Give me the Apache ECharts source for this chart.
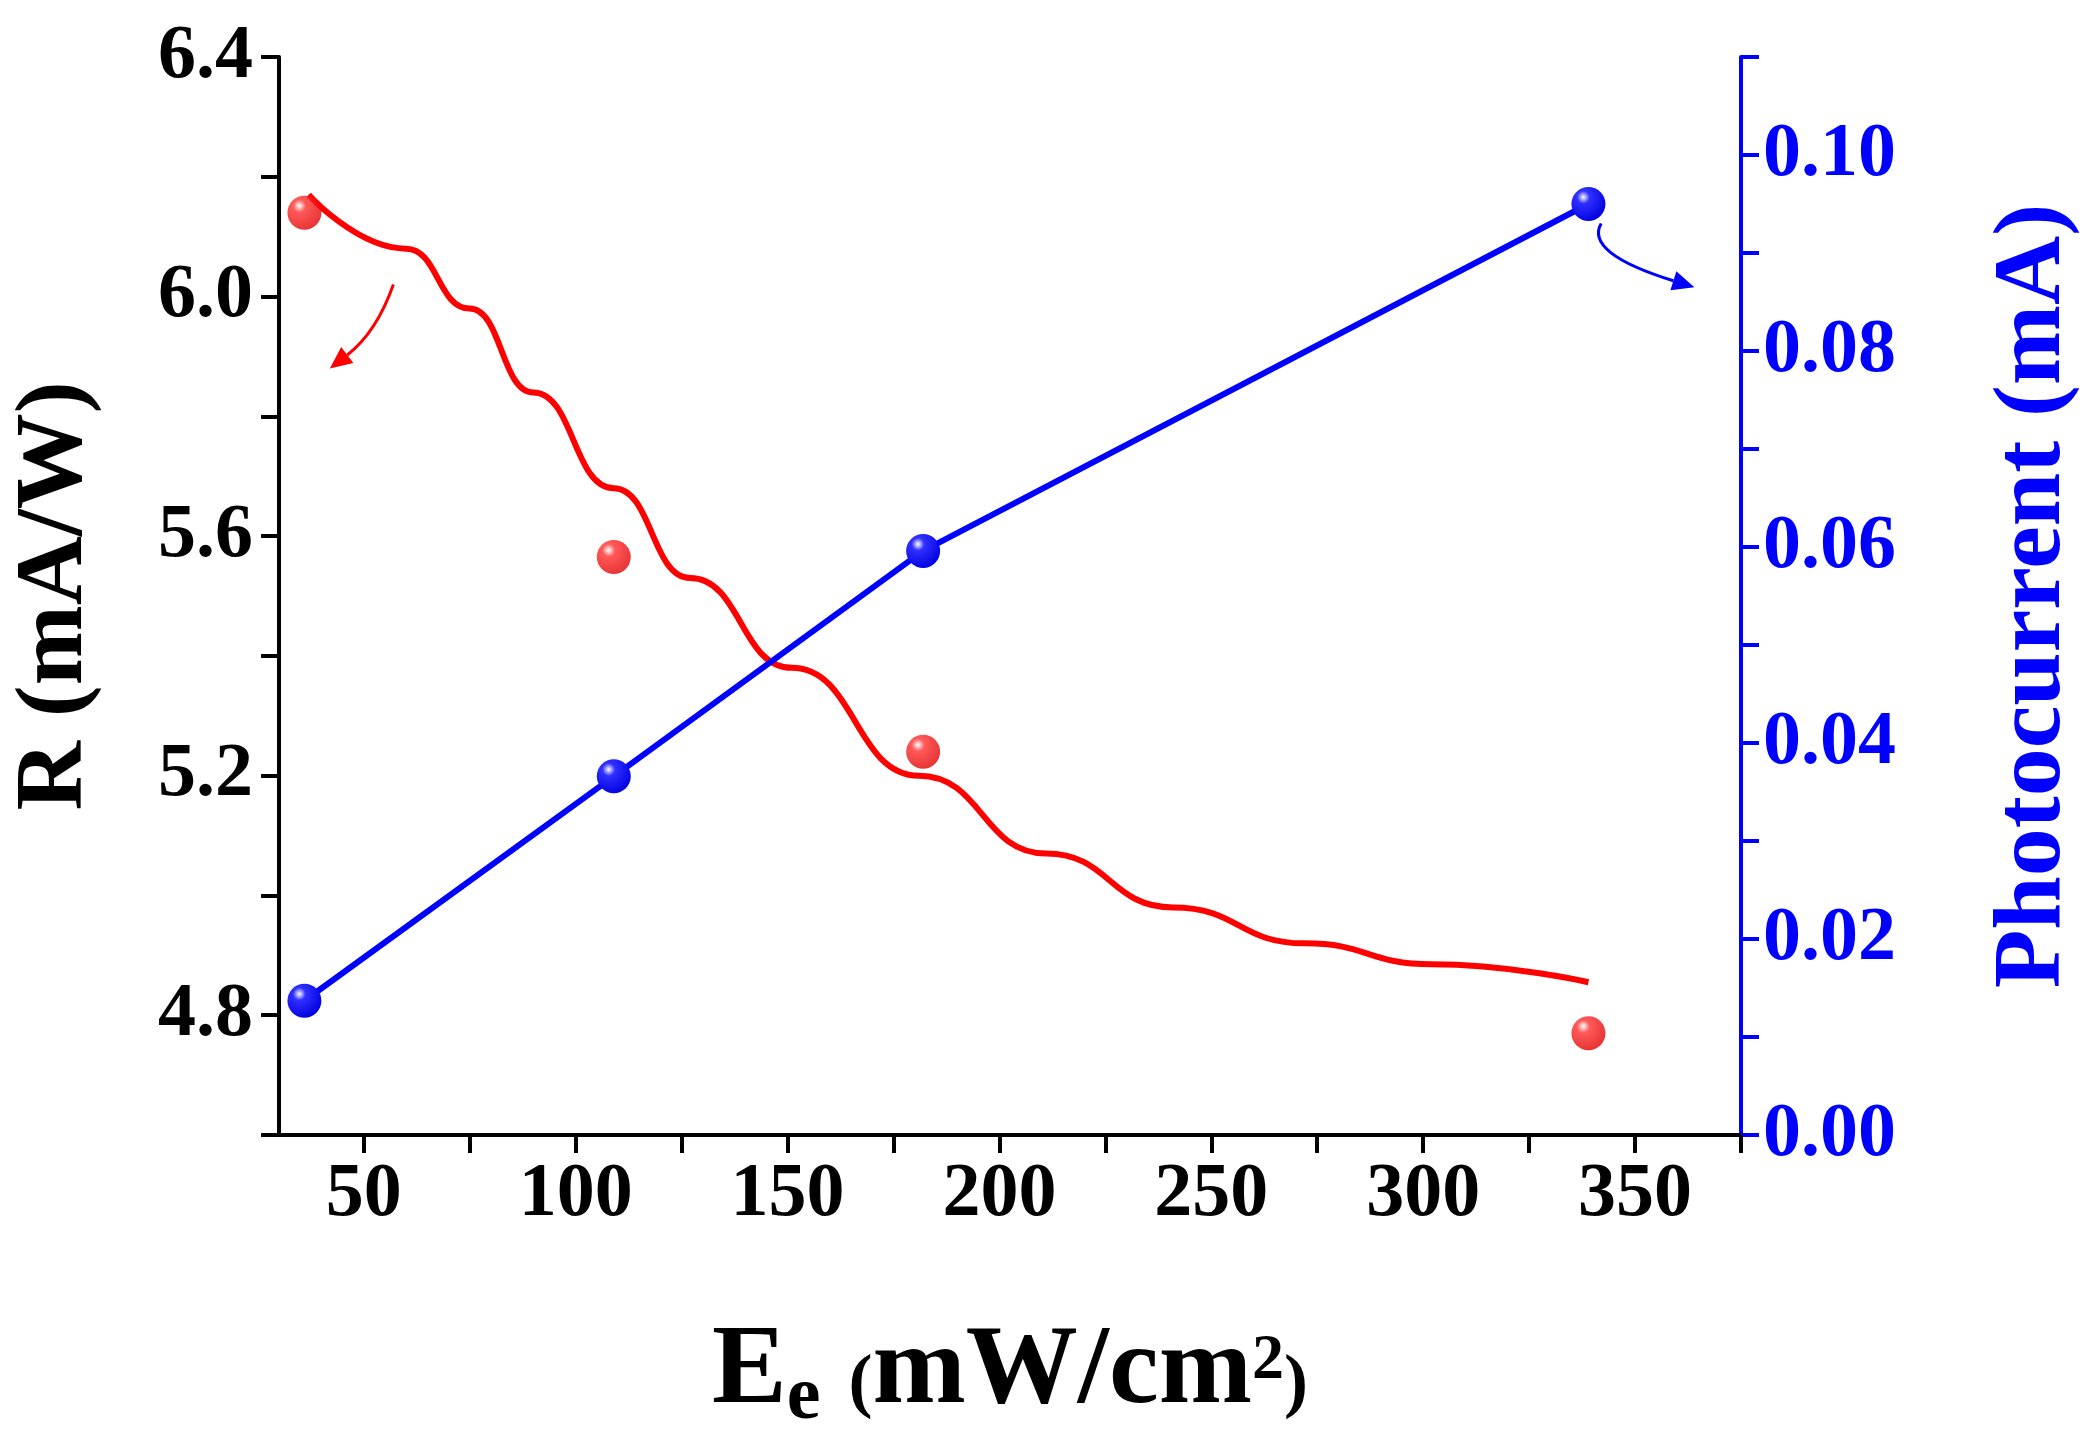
<!DOCTYPE html>
<html>
<head>
<meta charset="utf-8">
<script src="https://cdn.jsdelivr.net/npm/echarts@6/dist/echarts.min.js"></script>
<style>
  html, body { margin: 0; background: #fff; }
  #main { width: 2090px; height: 1441px; }
</style>
</head>
<body>
<div id="main"></div>
<script>
// measured responsivity (red spheres)
const rPoints = [[36, 6.14], [109, 5.565], [182, 5.24], [339, 4.77]];
// fitted curve
const rFit = [[37, 6.17], [60, 6.08], [75, 5.98], [90, 5.84], [109, 5.68], [127, 5.53],
  [151, 5.38], [181, 5.20], [211, 5.07], [241, 4.98], [272, 4.92], [302, 4.885], [339, 4.855]];
// photocurrent (blue)
const iPoints = [[36, 0.0137], [109, 0.0366], [182, 0.0596], [339, 0.095]];

const xTickVals = [50, 75, 100, 125, 150, 175, 200, 225, 250, 275, 300, 325, 350, 375];
const xLabelVals = [50, 100, 150, 200, 250, 300, 350];

const font = "'Liberation Serif', 'Times New Roman', serif";

function sphere(c, hi) {
  return {
    type: 'radial', x: 0.35, y: 0.3, r: 0.75,
    colorStops: [{ offset: 0, color: '#ffffff' }, { offset: 0.25, color: hi }, { offset: 1, color: c }]
  };
}

const chart = echarts.init(document.getElementById('main'));
const option = {
  backgroundColor: '#fff',
  animation: false,
  grid: { left: 271, right: 308, top: 57, bottom: 291 },
  xAxis: {
    type: 'value', min: 30, max: 375,
    axisLine: { lineStyle: { color: '#000', width: 4 } },
    axisTick: { show: true, length: 18, lineStyle: { width: 4, color: '#000' }, customValues: xTickVals },
    axisLabel: { customValues: xLabelVals, color: '#000', fontFamily: font, fontWeight: 'bold', fontSize: 76, margin: 22 },
    splitLine: { show: false },
    name: '{b|E}{s|e}{b| }{p|(}{b|mW/cm}{sup|2}{p|)}',
    nameLocation: 'middle', nameGap: 175,
    nameTextStyle: {
      rich: {
        b: { fontFamily: font, fontWeight: 'bold', fontSize: 112, color: '#000' },
        s: { fontFamily: font, fontWeight: 'bold', fontSize: 76, color: '#000', padding: [50, 0, 0, 0] },
        p: { fontFamily: font, fontWeight: 'bold', fontSize: 72, color: '#000', padding: [24, 0, 0, 0] },
        sup: { fontFamily: font, fontWeight: 'bold', fontSize: 64, color: '#000', padding: [0, 0, 24, 0] }
      }
    }
  },
  yAxis: [{
    type: 'value', min: 4.6, max: 6.4, interval: 0.2, position: 'left',
    axisLine: { show: true, lineStyle: { color: '#000', width: 4 } },
    axisTick: { show: true, length: 18, lineStyle: { width: 4, color: '#000' } },
    axisLabel: {
      color: '#000', fontFamily: font, fontWeight: 'bold', fontSize: 76, margin: 26,
      formatter: v => {
        const k = Math.round((v - 4.8) / 0.4 * 1000) / 1000;
        return Number.isInteger(k) && k >= 0 ? v.toFixed(1) : '';
      }
    },
    splitLine: { show: false },
    name: 'R (mA/W)', nameLocation: 'middle', nameGap: 175,
    nameTextStyle: { color: '#000', fontFamily: font, fontWeight: 'bold', fontSize: 96 }
  }, {
    type: 'value', min: 0, max: 0.11, interval: 0.01, position: 'right',
    axisLine: { show: true, lineStyle: { color: '#0000ff', width: 4 } },
    axisTick: { show: true, length: 18, lineStyle: { width: 4, color: '#0000ff' } },
    axisLabel: {
      color: '#0000ff', fontFamily: font, fontWeight: 'bold', fontSize: 76, margin: 22,
      formatter: v => {
        const k = Math.round(v * 100);
        return k % 2 === 0 ? v.toFixed(2) : '';
      }
    },
    splitLine: { show: false },
    name: 'Photocurrent (mA)', nameLocation: 'middle', nameGap: 245,
    nameTextStyle: { color: '#0000ff', fontFamily: font, fontWeight: 'bold', fontSize: 96 }
  }],
  series: [{
    type: 'line', data: rFit, smooth: 0.5, smoothMonotone: 'x', showSymbol: false, yAxisIndex: 0,
    lineStyle: { color: '#ff0000', width: 6 }, z: 2
  }, {
    type: 'scatter', data: rPoints, yAxisIndex: 0, symbolSize: 34,
    itemStyle: { color: sphere('#e00000', '#ff3030') }, z: 3
  }, {
    type: 'line', data: iPoints, yAxisIndex: 1, symbol: 'circle', symbolSize: 34,
    lineStyle: { color: '#0000ff', width: 6 },
    itemStyle: { color: sphere('#0000e0', '#3030ff') }, z: 3
  }]
};
chart.setOption(option);

// curved arrows pointing to each axis
function arrow(p0, c, p1, color) {
  const ang = Math.atan2(p1[1] - c[1], p1[0] - c[0]);
  const L = 22, W = 10;
  const base = [p1[0] - L * Math.cos(ang), p1[1] - L * Math.sin(ang)];
  const nx = -Math.sin(ang) * W, ny = Math.cos(ang) * W;
  return [{
    type: 'bezierCurve', shape: { x1: p0[0], y1: p0[1], cpx1: c[0], cpy1: c[1], x2: base[0], y2: base[1] },
    style: { stroke: color, lineWidth: 3, fill: null }
  }, {
    type: 'polygon', shape: { points: [p1, [base[0] + nx, base[1] + ny], [base[0] - nx, base[1] - ny]] },
    style: { fill: color }
  }];
}
const a0 = chart.convertToPixel({ xAxisIndex: 0, yAxisIndex: 0 }, [57, 6.02]);
const a1 = chart.convertToPixel({ xAxisIndex: 0, yAxisIndex: 0 }, [53, 5.94]);
const a2 = chart.convertToPixel({ xAxisIndex: 0, yAxisIndex: 0 }, [42, 5.88]);
const b0 = chart.convertToPixel({ xAxisIndex: 0, yAxisIndex: 1 }, [342, 0.093]);
const b1 = chart.convertToPixel({ xAxisIndex: 0, yAxisIndex: 1 }, [338, 0.090]);
const b2 = chart.convertToPixel({ xAxisIndex: 0, yAxisIndex: 1 }, [364, 0.0865]);
chart.setOption({ graphic: arrow(a0, a1, a2, '#ff0000').concat(arrow(b0, b1, b2, '#0000ff')) });
</script>
</body>
</html>
